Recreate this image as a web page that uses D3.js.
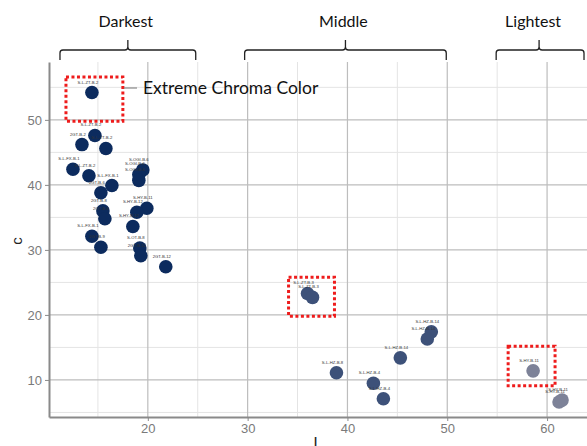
<!DOCTYPE html>
<html>
<head>
<meta charset="utf-8">
<script src="https://cdn.jsdelivr.net/npm/d3@7"></script>
<style>
  body { margin: 0; background: #fff; }
  svg { display: block; }
</style>
</head>
<body>
<div id="chart"></div>
<script>
// sample values
const lValues = [14.4, 14.7, 13.4, 15.8, 12.5, 14.1, 19.5, 19.1, 19.1, 16.4, 15.3,
  15.5, 15.7, 19.9, 18.9, 18.5, 14.4, 15.3, 19.2, 19.3, 21.8,
  36.0, 36.5, 48.4, 48.0, 45.3, 38.9, 42.6, 43.6,
  58.6, 61.2, 61.5];
const cValues = [54.2, 47.6, 46.2, 45.6, 42.4, 41.4, 42.3, 41.6, 40.7, 39.9, 38.8,
  36.0, 34.8, 36.4, 35.8, 33.6, 32.1, 30.4, 30.3, 29.1, 27.4,
  23.3, 22.7, 17.4, 16.3, 13.4, 11.1, 9.5, 7.1,
  11.4, 6.6, 6.9];
const sampleNames = ["S-L-ZT-B-2", "S-L-ZT-B-2", "2GT-B-2", "S-L-ZT-B-2", "S-L-FX-B-1", "S-L-ZT-B-2",
  "S-OGI-B-6", "S-OGI-B-6", "S-OGI-B-6", "S-L-FX-B-1", "2GT-B-6", "2GT-B-8", "2GT-B-8",
  "S-HY-B-11", "S-HY-B-12", "S-HY-B-12", "S-L-FX-B-1", "2GT-B-9", "S-OT-B-8", "2GT-B-12", "2GT-B-12",
  "S-L-ZT-B-3", "S-L-ZT-B-3", "S-L-HZ-B-14", "S-L-HZ-B-14", "S-L-HZ-B-14", "S-L-HZ-B-8",
  "S-L-HZ-B-4", "S-L-HZ-B-4",
  "S-HY-B-11", "S-HY-B-11", "S-HY-B-11"];
const groups = [].concat(Array(21).fill("Darkest"), Array(8).fill("Middle"), Array(3).fill("Lightest"));

const groupNames = ["Darkest", "Middle", "Lightest"];
const groupRanges = [[11.2, 24.8], [29.7, 49.9], [54.9, 63.7]];
const groupCenters = [18, 39.8, 59.2];

// dotted boxes: [L0, L1, c0, c1]
const boxes = [[11.8, 17.5, 56.6, 49.8], [34.1, 38.7, 25.8, 19.8], [56.1, 60.8, 15.2, 9.1]];

const xTicks = [20, 30, 40, 50, 60];
const yTicks = [10, 20, 30, 40, 50];

const width = 587, height = 446;
const svg = d3.select("#chart").append("svg")
  .attr("width", width).attr("height", height);

const x = d3.scaleLinear().domain([10.1, 64]).range([49, 587]);
const y = d3.scaleLinear().domain([4.3, 58.9]).range([417, 62]);

const color = d3.scaleOrdinal()
  .domain(groupNames)
  .range(["#0c2b5e", "#3d5179", "#7d8298"]);

// grid
const minorX = d3.range(15, 64, 10);
const minorY = d3.range(5, 59, 10);
svg.append("g").selectAll("line.mx").data(minorX).join("line")
  .attr("x1", d => x(d)).attr("x2", d => x(d))
  .attr("y1", y.range()[0]).attr("y2", y.range()[1])
  .attr("stroke", "#e4e4e4").attr("stroke-width", 1);
svg.append("g").selectAll("line.my").data(minorY).join("line")
  .attr("x1", x.range()[0]).attr("x2", x.range()[1])
  .attr("y1", d => y(d)).attr("y2", d => y(d))
  .attr("stroke", "#e4e4e4").attr("stroke-width", 1);
svg.append("g").selectAll("line").data(xTicks).join("line")
  .attr("x1", d => x(d)).attr("x2", d => x(d))
  .attr("y1", y.range()[0]).attr("y2", y.range()[1])
  .attr("stroke", "#bdbdbd").attr("stroke-width", 1.2);
svg.append("g").selectAll("line").data(yTicks).join("line")
  .attr("x1", x.range()[0]).attr("x2", x.range()[1])
  .attr("y1", d => y(d)).attr("y2", d => y(d))
  .attr("stroke", "#bdbdbd").attr("stroke-width", 1.2);

// axes
const xAxis = svg.append("g")
  .attr("transform", `translate(0,${y.range()[0]})`)
  .call(d3.axisBottom(x).tickValues(xTicks).tickSize(4).tickSizeOuter(0).tickPadding(3));
const yAxis = svg.append("g")
  .attr("transform", `translate(${x.range()[0]},0)`)
  .call(d3.axisLeft(y).tickValues(yTicks).tickSize(4).tickSizeOuter(0).tickPadding(3));
[xAxis, yAxis].forEach(a => {
  a.select(".domain").attr("stroke", "#8a8a8a").attr("stroke-width", 2);
  a.selectAll(".tick line").attr("stroke", "#8a8a8a");
  a.selectAll("text").attr("fill", "#7a7a7a")
    .attr("font-family", "Liberation Sans, Arial, sans-serif").attr("font-size", 13);
});

svg.append("text")
  .attr("transform", "translate(22,241) rotate(-90)")
  .attr("text-anchor", "middle")
  .attr("font-family", "Liberation Sans, Arial, sans-serif")
  .attr("font-size", 15).attr("fill", "#222")
  .text("c");
svg.append("text")
  .attr("x", 318).attr("y", 449)
  .attr("text-anchor", "middle")
  .attr("font-family", "Liberation Sans, Arial, sans-serif")
  .attr("font-size", 16).attr("fill", "#222")
  .text("L");

// points
const points = lValues.map((L, i) => ({ L, c: cValues[i], name: sampleNames[i], group: groups[i] }));

svg.append("g").selectAll("circle").data(points).join("circle")
  .attr("cx", d => x(d.L)).attr("cy", d => y(d.c))
  .attr("r", 6.8)
  .attr("fill", d => color(d.group));

svg.append("g").selectAll("text").data(points).join("text")
  .attr("x", d => x(d.L) - 4).attr("y", d => y(d.c) - 9)
  .attr("text-anchor", "middle")
  .attr("font-family", "Liberation Sans, Arial, sans-serif")
  .attr("font-size", 4.2).attr("fill", "#333")
  .text(d => d.name);

// dotted highlight boxes
svg.append("g").selectAll("rect").data(boxes).join("rect")
  .attr("x", d => x(d[0])).attr("y", d => y(d[2]))
  .attr("width", d => x(d[1]) - x(d[0]))
  .attr("height", d => y(d[3]) - y(d[2]))
  .attr("fill", "none").attr("stroke", "#ee1c1c")
  .attr("stroke-width", 3).attr("stroke-dasharray", "3,2.5");

// annotation
svg.append("line")
  .attr("x1", x(boxes[0][1]) + 1).attr("x2", 137)
  .attr("y1", 88).attr("y2", 88)
  .attr("stroke", "#888").attr("stroke-width", 1.2);
svg.append("text")
  .attr("x", 143).attr("y", 94)
  .attr("font-family", "Lato, Open Sans, sans-serif")
  .attr("font-size", 17.5).attr("fill", "#111")
  .text("Extreme Chroma Color");

// brackets above the plot
const brackets = svg.append("g");
groupNames.forEach((g, i) => {
  const x0 = x(groupRanges[i][0]), x1 = x(groupRanges[i][1]), xm = x(groupCenters[i]);
  const top = 50, low = 60, r = 3;
  brackets.append("path")
    .attr("d", `M${x0},${low} L${x0},${top + r} Q${x0},${top} ${x0 + r},${top}
      L${xm - r},${top} Q${xm},${top} ${xm},${top - r} L${xm},${top - 10}
      M${xm},${top - r} Q${xm},${top} ${xm + r},${top}
      L${x1 - r},${top} Q${x1},${top} ${x1},${top + r} L${x1},${low}`)
    .attr("fill", "none").attr("stroke", "#222").attr("stroke-width", 1.3);
  brackets.append("text")
    .attr("x", (i === 2 ? x(groupCenters[i]) - 6 : x(groupCenters[i]) - 2)).attr("y", 27)
    .attr("text-anchor", "middle")
    .attr("font-family", "Lato, Open Sans, sans-serif")
    .attr("font-size", 16).attr("fill", "#111")
    .text(g);
});
</script>
</body>
</html>
